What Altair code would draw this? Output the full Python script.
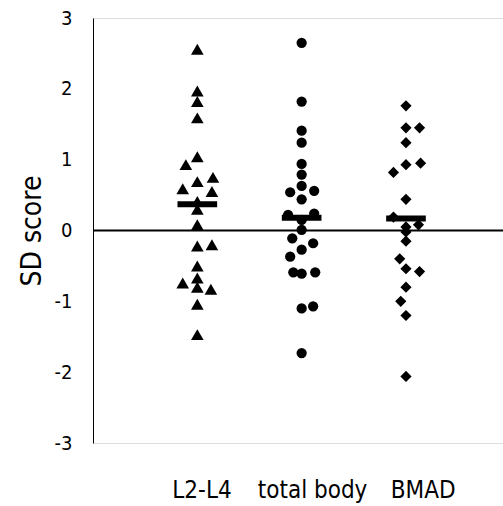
import altair as alt
import pandas as pd

categories = ["L2-L4", "total body", "BMAD"]

l2l4_values = [2.56, 1.97, 1.82, 1.59, 1.04, 0.93, 0.75, 0.69, 0.59, 0.55, 0.41, 0.30, 0.08,
               -0.20, -0.22, -0.50, -0.67, -0.74, -0.80, -0.83, -1.04, -1.47]
l2l4_jitter = [0, 0, 0, 0, 0, -0.11, 0.15, 0, -0.14, 0.14, 0, 0, 0,
               0.14, 0, 0, 0, -0.14, 0, 0.13, 0, 0]

tb_values = [2.65, 1.82, 1.41, 1.24, 0.94, 0.79, 0.63, 0.56, 0.54, 0.44, 0.24, 0.22, 0.15, 0.01,
             -0.11, -0.18, -0.27, -0.37, -0.59, -0.61, -0.59, -1.07, -1.10, -1.73]
tb_jitter = [0, 0, 0, 0, 0, 0, 0, 0.12, -0.11, 0, 0.12, -0.13, 0, 0,
             -0.09, 0.11, 0, -0.11, -0.08, 0, 0.13, 0.11, 0, 0]

bmad_values = [1.76, 1.45, 1.45, 1.24, 0.95, 0.93, 0.82, 0.44, 0.19, 0.08, 0.05, -0.02, -0.15,
               -0.40, -0.54, -0.58, -0.80, -1.00, -1.20, -2.06]
bmad_jitter = [0, 0, 0.13, 0, 0.14, 0, -0.12, 0, -0.12, 0.12, 0, 0, 0,
               -0.06, 0, 0.13, 0, -0.05, 0, 0]

medians = [0.37, 0.18, 0.17]

rows = []
for i, (vals, jit) in enumerate([(l2l4_values, l2l4_jitter), (tb_values, tb_jitter), (bmad_values, bmad_jitter)]):
    for v, j in zip(vals, jit):
        rows.append({"group": categories[i], "pos": i + 1 + j, "sd": v})
points = pd.DataFrame(rows)

half = 0.19
med_df = pd.DataFrame({
    "group": categories,
    "x1": [i + 1 - half for i in range(3)],
    "x2": [i + 1 + half for i in range(3)],
    "median": medians,
})

FONT = "DejaVu Sans Condensed"

xscale = alt.Scale(domain=[0, 3.93], nice=False, zero=False)
yscale = alt.Scale(domain=[-3, 3], nice=False)

label_expr = "datum.value < 1.5 ? 'L2-L4' : (datum.value < 2.6 ? 'total body' : 'BMAD')"

x_axis = alt.Axis(values=[1.04, 2.1, 3.16], labelExpr=label_expr, domain=False, ticks=False,
                  grid=False, title=None, labelFont=FONT, labelFontSize=24, labelColor="black",
                  labelPadding=35, labelFlush=False)
y_axis = alt.Axis(values=[-3, -2, -1, 0, 1, 2, 3],
                  labelExpr="datum.value < 0 ? '-' + abs(datum.value) : '' + datum.value",
                  domain=True, domainColor="black", domainWidth=1,
                  ticks=False, grid=False, title="SD score", titleFont=FONT, titleFontSize=28,
                  titleFontWeight="normal", titleColor="black", titlePadding=8,
                  labelFont=FONT, labelFontSize=20, labelColor="black", labelPadding=21)

base = alt.Chart(points)

zero_rule = alt.Chart(pd.DataFrame({"z": [0]})).mark_rule(color="black", strokeWidth=2).encode(
    y=alt.Y("z:Q", scale=yscale, axis=y_axis),
    x=alt.value(0), x2=alt.value(410),
)

shape_map = {"L2-L4": ("triangle-up", 160), "total body": ("circle", 105), "BMAD": ("diamond", 125)}
layers = [zero_rule]
for g in categories:
    shp, sz = shape_map[g]
    layers.append(
        base.transform_filter(alt.datum.group == g).mark_point(
            shape=shp, filled=True, color="black", opacity=1, size=sz, strokeWidth=0
        ).encode(
            x=alt.X("pos:Q", scale=xscale, axis=x_axis),
            y=alt.Y("sd:Q", scale=yscale, axis=y_axis),
        )
    )

med = alt.Chart(med_df).mark_rule(color="black", strokeWidth=6).encode(
    x=alt.X("x1:Q", scale=xscale, axis=x_axis),
    x2="x2:Q",
    y=alt.Y("median:Q", scale=yscale, axis=y_axis),
)
layers.append(med)

chart = alt.layer(*layers).properties(
    width=410, height=425,
    autosize=alt.AutoSizeParams(type="none"),
    padding={"left": 93, "top": 18, "right": 0, "bottom": 63},
).configure_view(stroke=None).configure(background="white")

chart.save("out.html", embed_options={"renderer": "svg", "actions": False})
